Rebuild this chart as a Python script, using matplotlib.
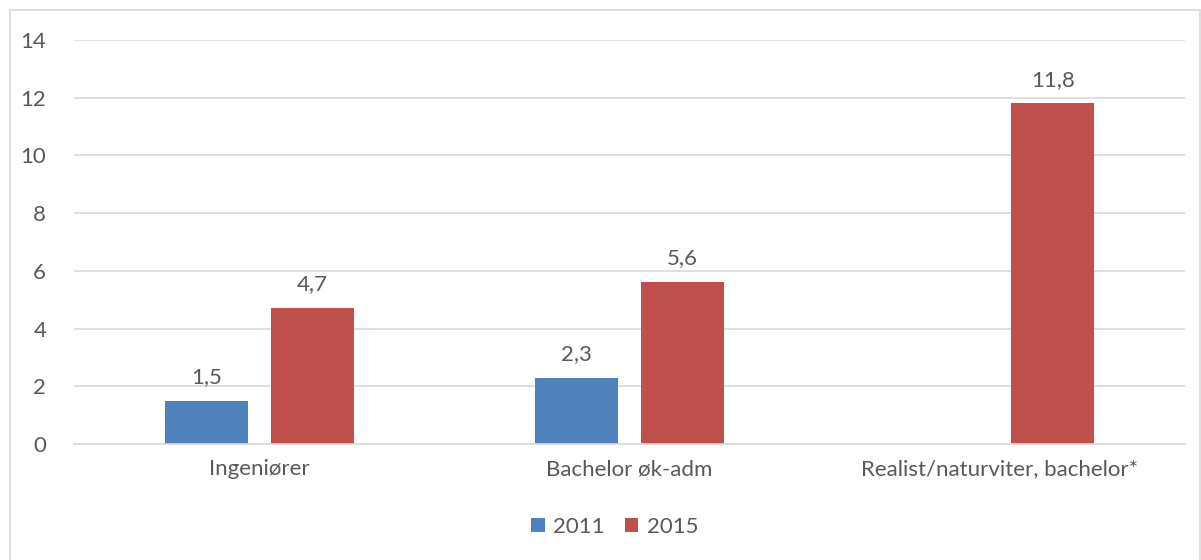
import matplotlib
matplotlib.use("Agg")
import matplotlib.pyplot as plt
from matplotlib.patches import Rectangle
import numpy as np

categories = ["Ingeniører", "Bachelor øk-adm", "Realist/naturviter, bachelor*"]
series_names = ["2011", "2015"]
values_2011 = [1.5, 2.3, None]
values_2015 = [4.7, 5.6, 11.8]
y_ticks = [0, 2, 4, 6, 8, 10, 12, 14]

blue = "#4F81BD"
red = "#C0504D"
text_col = "#595959"
grid_col = "#D9D9D9"
fs = 16

plt.rcParams["font.family"] = ["Lato", "DejaVu Sans"]

fig = plt.figure(figsize=(12.01, 5.6), dpi=100)
ax = fig.add_axes([74 / 1201, 1 - 444 / 560, (1185 - 74) / 1201, (444 - 40) / 560])

# light frame around the whole chart
fig.patches.append(Rectangle((10 / 1201, -0.01), 1190 / 1201, 1 - 10 / 560 + 0.01,
                             transform=fig.transFigure, fill=False,
                             edgecolor=grid_col, linewidth=1.2))

x = np.arange(len(categories))
width = 0.224
offset = 0.143

def plot_series(vals, dx, color, label):
    xs = [xi + dx for xi, v in zip(x, vals) if v is not None]
    vs = [v for v in vals if v is not None]
    bars = ax.bar(xs, vs, width=width, color=color, label=label, zorder=3)
    for b, v in zip(bars, vs):
        ax.annotate(f"{v:.1f}".replace(".", ","),
                    (b.get_x() + b.get_width() / 2, v),
                    xytext=(0, 10), textcoords="offset points",
                    ha="center", va="bottom", fontsize=fs, color=text_col)

plot_series(values_2011, -offset, blue, series_names[0])
plot_series(values_2015, offset, red, series_names[1])

ax.set_xlim(-0.5, len(categories) - 0.5)
ax.set_ylim(0, 14)
ax.set_yticks(y_ticks)
ax.set_yticklabels([str(t) for t in y_ticks], fontsize=fs, color=text_col)
ax.set_xticks(x)
ax.set_xticklabels(categories, fontsize=fs, color=text_col)
ax.tick_params(axis="y", length=0, pad=20)
ax.tick_params(axis="x", length=0, pad=11)
ax.yaxis.grid(True, color=grid_col, linewidth=1.2, zorder=0)
for s in ["top", "right", "left"]:
    ax.spines[s].set_visible(False)
ax.spines["bottom"].set_color(grid_col)
ax.spines["bottom"].set_linewidth(1.2)
ax.spines["bottom"].set_zorder(4)

leg = fig.legend(loc="center", bbox_to_anchor=(615 / 1201, 1 - 527 / 560),
                 ncol=2, frameon=False, fontsize=fs, handlelength=0.6,
                 handleheight=0.6, handletextpad=0.4, columnspacing=0.9)
for t in leg.get_texts():
    t.set_color(text_col)

fig.savefig("out.png", dpi=100)
